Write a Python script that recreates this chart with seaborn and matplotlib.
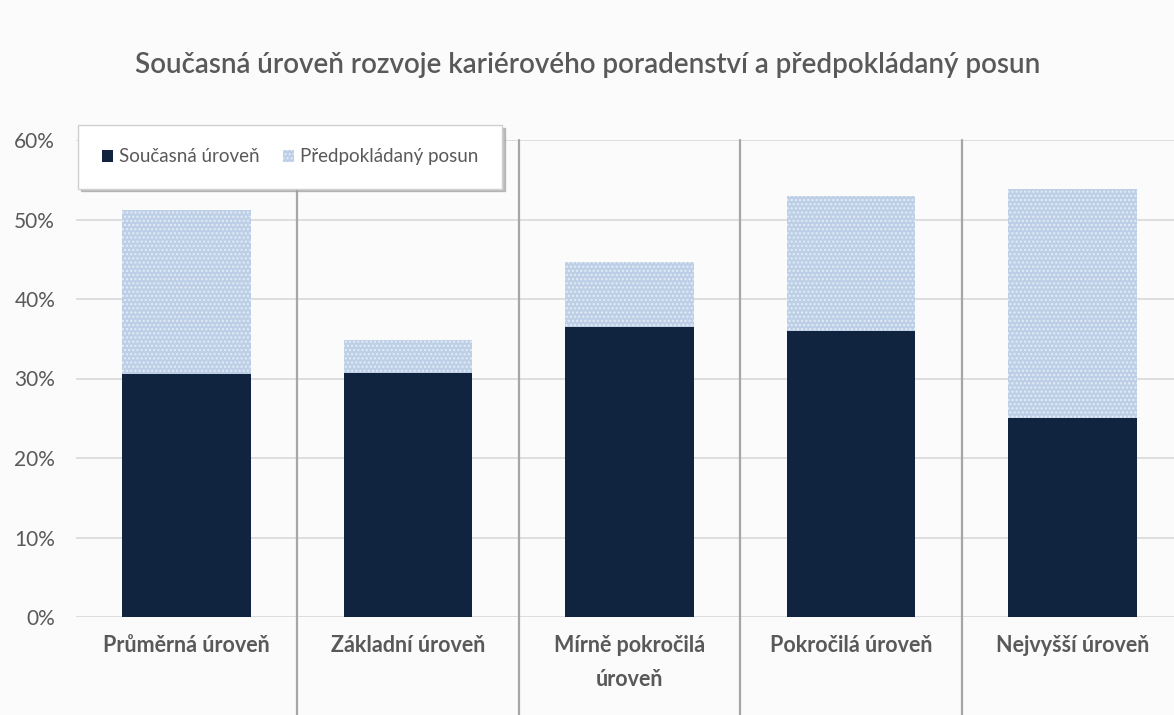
import numpy as np
import pandas as pd
import seaborn as sns
import matplotlib.pyplot as plt
from matplotlib.ticker import PercentFormatter

sns.set_theme(style="white")
plt.rcParams['font.family'] = ['Lato', 'DejaVu Sans']
plt.rcParams['hatch.linewidth'] = 1.0

# data (shares)
kategorie = ["Průměrná úroveň", "Základní úroveň", "Mírně pokročilá\núroveň",
             "Pokročilá úroveň", "Nejvyšší úroveň"]
soucasna = [0.306, 0.307, 0.365, 0.360, 0.250]
posun = [0.206, 0.041, 0.081, 0.169, 0.288]

df = pd.DataFrame({"kategorie": kategorie, "soucasna": soucasna, "posun": posun})
df["celkem"] = df["soucasna"] + df["posun"]

seda = "#595959"
tmava = "#10233f"
svetla = "#bccfe6"

fig = plt.figure(figsize=(11.74, 7.15), dpi=100, facecolor="#fbfbfb")
ax = fig.add_axes([76 / 1174, 98 / 715, 1107 / 1174, 477 / 715])
ax.set_facecolor("#fbfbfb")

# stacked bars: total first, current level on top
sns.barplot(data=df, x="kategorie", y="celkem", color=svetla, width=0.58,
            hatch="....", edgecolor="#e4ecf6", linewidth=0, saturation=1,
            label="Předpokládaný posun", ax=ax, zorder=2)
sns.barplot(data=df, x="kategorie", y="soucasna", color=tmava, width=0.58,
            linewidth=0, saturation=1, label="Současná úroveň", ax=ax, zorder=3)

ax.set_xlim(-0.5, len(kategorie) - 0.5)
ax.set_ylim(0, 0.6)
ax.set_yticks(np.arange(0, 0.61, 0.1))
ax.yaxis.set_major_formatter(PercentFormatter(1.0, decimals=0))
ax.yaxis.grid(True, color="#d9d9d9", linewidth=1.2, zorder=0)
ax.set_axisbelow(True)
for s in ax.spines.values():
    s.set_visible(False)
ax.set_xlabel("")
ax.set_ylabel("")
ax.tick_params(axis="y", labelsize=15, labelcolor=seda, length=0, pad=15)
ax.tick_params(axis="x", labelsize=15.5, labelcolor=seda, length=0, pad=13)
for t in ax.get_xticklabels():
    t.set_fontweight("bold")
    t.set_linespacing(1.75)
    t.set_verticalalignment("top")

# category separators running down through the labels
for i in range(len(kategorie) - 1):
    ax.plot([i + 0.5, i + 0.5], [0.6, -0.13], color="#a6a6a6", linewidth=1.6,
            clip_on=False, zorder=1)

handles, labels = ax.get_legend_handles_labels()
leg = ax.legend(handles[::-1], labels[::-1], ncol=2, loc="upper left",
                bbox_to_anchor=(0.002, 1.032), borderaxespad=0, fontsize=13.5,
                frameon=True, fancybox=False,
                shadow={"color": "#9a9a9a", "alpha": 0.6},
                handlelength=0.6, handleheight=0.6, handletextpad=0.35,
                columnspacing=1.2, borderpad=1.25, labelcolor=seda)
leg.get_frame().set_edgecolor("#d0d0d0")
leg.get_frame().set_facecolor("white")
leg.set_zorder(5)

fig.text(588 / 1174, 1 - 65 / 715,
         "Současná úroveň rozvoje kariérového poradenství a předpokládaný posun",
         ha="center", va="center", fontsize=20, fontweight="semibold", color=seda)

fig.savefig("out.png", dpi=100, facecolor=fig.get_facecolor())
